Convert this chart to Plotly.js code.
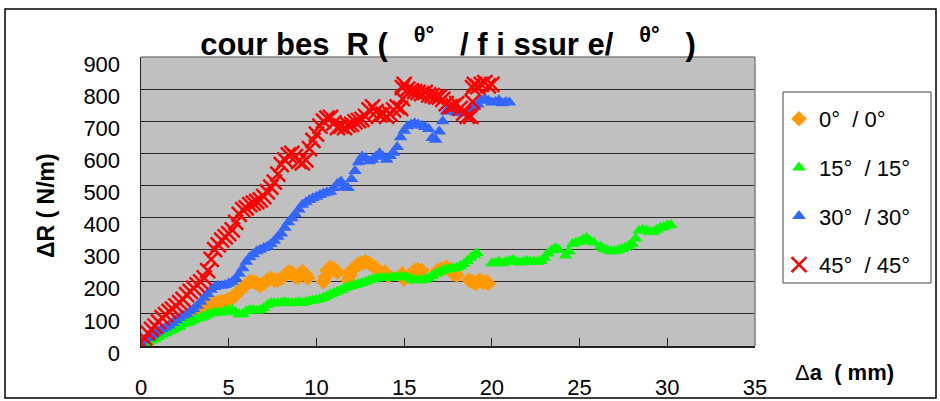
<!DOCTYPE html>
<html>
<head>
<meta charset="utf-8">
<script src="https://cdn.plot.ly/plotly-3.0.1.min.js"></script>
<style>html,body{margin:0;padding:0;background:#fff;}#chart{width:940px;height:401px;}</style>
</head>
<body>
<div id="chart"></div>
<script>
// Legend names
const seriesNames = ['0°  / 0°', '15°  / 15°', '30°  / 30°', '45°  / 45°'];
const xTickVals = [0, 5, 10, 15, 20, 25, 30, 35];
const yTickVals = [0, 100, 200, 300, 400, 500, 600, 700, 800, 900];

// 0° / 0°
const xOrange = [0,0.2,0.4,0.6,0.8,1.0,1.2,1.4,1.6,1.8,
  2.0,2.2,2.4,2.6,2.8,3.0,3.2,3.4,3.6,3.8,
  4.0,4.2,4.4,4.6,4.8,5.0,5.2,5.4,5.6,5.8,
  6.0,6.2,6.4,6.6,6.8,7.0,7.2,7.4,7.6,7.8,
  8.0,8.2,8.4,8.6,8.8,9.0,9.2,9.4,9.5,
  10.4,10.5,10.6,10.8,11.0,11.2,
  11.8,11.9,12.0,12.2,12.4,12.6,12.8,13.0,13.2,13.4,
  13.9,14.1,14.9,15.0,15.4,15.6,15.8,16.0,
  16.9,17.1,17.4,17.6,17.8,18.0,
  18.7,18.9,19.1,19.3,19.5,19.7,19.8];
const yOrange = [5,10,15,22,30,38,45,52,60,66,
  74,80,87,94,100,105,110,115,120,125,
  130,132,135,138,140,145,150,158,172,182,
  190,200,200,195,188,195,205,210,205,205,
  210,220,230,228,215,215,232,222,212,
  200,215,235,245,240,230,
  205,220,235,245,255,258,262,258,250,243,
  230,218,225,208,215,235,238,235,
  235,240,246,240,225,220,
  205,200,195,205,198,200,195];

// 15° / 15°
const xGreen = [0,0.2,0.4,0.6,0.8,1.0,1.2,1.4,1.6,1.8,
  2.0,2.2,2.4,2.6,2.8,3.0,3.2,3.4,3.6,3.8,
  4.0,4.2,4.4,4.6,4.8,5.0,5.2,5.4,5.6,5.8,
  6.0,6.2,6.4,6.6,6.8,7.0,7.2,7.4,7.6,7.8,
  8.0,8.2,8.4,8.6,8.8,9.0,9.2,9.4,9.6,9.8,
  10.0,10.2,10.4,10.6,10.8,11.0,11.2,11.4,11.6,11.8,
  12.0,12.2,12.4,12.6,12.8,13.0,13.2,13.4,13.6,13.8,
  14.0,14.2,14.4,14.6,14.8,15.0,15.2,15.4,15.6,15.8,
  16.0,16.2,16.4,16.6,16.8,17.0,17.2,17.4,17.6,17.8,
  18.0,18.2,18.4,18.6,18.8,19.0,19.15,
  20.0,20.2,20.4,20.6,20.8,21.0,21.2,21.4,21.6,21.8,
  22.0,22.2,22.4,22.6,22.8,23.0,23.2,23.4,23.6,23.8,
  24.2,24.4,24.6,24.8,25.0,25.2,25.4,25.6,25.8,
  26.2,26.4,26.6,26.8,27.0,27.2,27.4,27.6,27.8,28.0,
  28.2,28.4,28.6,28.8,29.0,29.2,29.4,29.6,29.8,30.0,30.2];
const yGreen = [5,8,12,18,22,28,35,40,45,50,
  55,60,68,72,75,80,85,88,92,97,
  102,103,104,104,108,112,113,105,98,100,
  108,112,112,110,112,118,128,134,133,133,
  135,137,134,133,135,137,134,137,140,142,
  143,146,150,155,160,165,170,174,180,184,
  187,190,193,196,200,205,207,210,212,212,
  212,212,214,215,215,214,214,208,205,205,
  205,207,212,218,225,230,235,238,240,242,
  244,248,255,265,275,283,290,
  258,258,262,258,262,265,268,262,260,262,
  265,262,262,262,265,275,288,298,305,300,
  282,295,318,322,325,332,336,328,322,
  310,302,298,295,295,298,302,306,312,318,
  335,360,362,360,355,355,362,368,370,375,377];

// 30° / 30°
const xBlue = [0,0.2,0.4,0.6,0.8,1.0,1.2,1.4,1.6,1.8,
  2.0,2.2,2.4,2.6,2.8,3.0,3.2,3.4,3.6,3.8,
  4.0,4.2,4.4,4.6,4.8,5.0,5.2,5.4,5.6,5.8,
  6.0,6.2,6.4,6.6,6.8,7.0,7.2,7.4,7.6,7.8,
  8.0,8.2,8.4,8.6,8.8,9.0,9.2,9.4,9.6,9.8,
  10.0,10.2,10.4,10.6,10.8,11.0,11.2,11.4,11.6,11.8,
  12.0,12.2,12.4,12.6,12.8,13.0,13.2,13.4,13.6,13.8,
  14.0,14.2,14.4,14.6,14.8,15.0,15.2,15.4,15.6,15.8,
  16.0,16.2,16.4,16.6,16.8,17.0,17.2,17.4,17.6,17.8,
  18.0,18.2,18.4,18.6,18.8,19.0,19.2,19.4,19.6,19.8,
  20.0,20.2,20.4,20.6,20.8,21.0];
const yBlue = [10,18,25,33,40,46,52,58,64,72,
  80,88,95,100,108,115,125,138,150,162,
  175,184,188,188,190,195,200,210,225,242,
  262,276,286,295,300,305,310,318,328,340,
  350,368,385,398,410,425,440,448,455,460,
  465,470,475,478,480,492,505,512,495,492,
  520,545,572,590,585,575,580,590,600,590,
  580,592,602,620,650,670,684,690,694,690,
  686,682,676,648,642,668,700,730,735,730,
  726,728,724,728,736,745,752,765,770,764,
  758,760,765,756,760,758];

// 45° / 45°
const xRed = [0,0.2,0.4,0.6,0.8,1.0,1.2,1.4,1.6,1.8,
  2.0,2.2,2.4,2.6,2.8,3.0,3.2,3.4,3.6,3.8,
  4.0,4.2,4.4,4.6,4.8,5.0,5.2,5.4,5.6,5.8,
  6.0,6.2,6.4,6.6,6.8,7.0,7.2,7.4,7.6,7.8,
  8.0,8.2,8.4,8.6,8.8,9.0,9.2,9.4,9.6,9.8,
  10.0,10.2,10.4,10.6,10.8,11.0,11.2,11.4,11.6,11.8,
  12.0,12.2,12.4,12.6,12.8,13.0,13.2,13.4,13.6,13.8,
  14.0,14.2,14.4,14.6,14.8,14.9,14.9,15.0,15.2,15.4,
  15.6,15.8,16.0,16.2,16.4,16.6,16.8,17.0,17.2,17.4,
  17.6,17.8,18.0,18.2,18.4,18.6,18.8,18.9,18.9,19.0,
  19.2,19.4,19.6,19.8,20.0];
const yRed = [10,25,40,52,62,75,88,98,108,115,
  125,135,145,160,170,180,190,200,212,235,
  270,300,315,330,340,350,362,385,410,425,
  430,440,445,450,455,465,480,495,510,535,
  565,580,595,600,590,575,570,580,615,640,
  660,685,700,710,712,695,680,685,680,688,
  690,698,702,706,715,735,745,730,720,722,
  715,722,735,745,740,770,805,815,800,795,
  792,790,786,790,782,780,776,775,768,755,
  745,748,755,740,725,715,715,760,805,815,
  808,815,820,810,815];

const FONT = 'Liberation Sans, Arial, sans-serif';

const traces = [
  {x: xOrange, y: yOrange, name: seriesNames[0], type: 'scatter', mode: 'markers', legendgroup: 'a',
   marker: {symbol: 'diamond', size: 12, color: '#FF9900', line: {width: 0}}},
  {x: xGreen, y: yGreen, name: seriesNames[1], type: 'scatter', mode: 'markers', legendgroup: 'b',
   marker: {symbol: 'triangle-up', size: 12, color: '#00FF00', line: {width: 0}}},
  {x: xBlue, y: yBlue, name: seriesNames[2], type: 'scatter', mode: 'markers', legendgroup: 'c',
   marker: {symbol: 'triangle-up', size: 12, color: '#3366FF', line: {width: 0}}},
  {x: xRed, y: yRed, name: seriesNames[3], type: 'scatter', mode: 'markers', legendgroup: 'd',
   marker: {symbol: 'x-thin', size: 15, color: '#FF0000', line: {width: 2.5, color: '#FF0000'}}}
];

const L = 141, R = 755, T = 57, B = 346;
const px = v => (v - L) / (R - L);
const py = v => (B - v) / (B - T);

const layout = {
  width: 940, height: 401,
  margin: {l: 141, r: 185, t: 57, b: 55},
  paper_bgcolor: '#FFFFFF',
  plot_bgcolor: '#C0C0C0',
  font: {family: FONT, color: '#000'},
  showlegend: true,
  title: {
    text: '<b>cour bes  R (   <sup>θ°</sup>   / f i ssur e/   <sup>θ°</sup>   )</b>',
    font: {family: FONT, size: 31, color: '#000'},
    x: 0.5, xref: 'paper', xanchor: 'center',
    y: 1 - 44 / 401, yref: 'container', yanchor: 'middle'
  },
  xaxis: {
    range: [0, 35], tickvals: xTickVals, ticks: 'inside', ticklen: 8, tickcolor: '#222', tickwidth: 1,
    showgrid: false, zeroline: false, showline: true, linecolor: '#222', linewidth: 1.5,
    tickfont: {family: FONT, size: 22, color: '#000'}, ticklabelstandoff: 21, fixedrange: true
  },
  yaxis: {
    range: [0, 900], tickvals: yTickVals, ticks: 'inside', ticklen: 7, tickcolor: '#222', tickwidth: 1,
    showgrid: true, gridcolor: '#2a2a2a', gridwidth: 1,
    zeroline: false, showline: true, linecolor: '#222', linewidth: 1.5,
    tickfont: {family: FONT, size: 22, color: '#000'}, ticklabelstandoff: 15, ticklabelshift: 7,
    fixedrange: true
  },
  legend: {
    x: px(779), y: py(98), xanchor: 'left', yanchor: 'top',
    bgcolor: 'rgba(0,0,0,0)', borderwidth: 0,
    font: {family: FONT, size: 22, color: '#000'},
    traceorder: 'grouped', tracegroupgap: 17
  },
  annotations: [
    {text: '<b>ΔR ( N/m)</b>', xref: 'paper', yref: 'paper', x: px(46), y: py(205),
     xanchor: 'center', yanchor: 'middle', textangle: -90, showarrow: false,
     font: {family: FONT, size: 23, color: '#000'}},
    {text: 'Δ<b>a  ( mm)</b>', xref: 'paper', yref: 'paper', x: px(793), y: py(372),
     xanchor: 'left', yanchor: 'middle', showarrow: false,
     font: {family: FONT, size: 22, color: '#000'}}
  ],
  shapes: [
    {type: 'rect', xref: 'paper', yref: 'paper', x0: px(5), x1: px(936), y0: py(398), y1: py(9),
     line: {color: '#000', width: 1.5}, fillcolor: 'rgba(0,0,0,0)'},
    {type: 'line', xref: 'paper', yref: 'paper', x0: 0, x1: 1, y0: 1, y1: 1, line: {color: '#808080', width: 1.5}},
    {type: 'line', xref: 'paper', yref: 'paper', x0: 1, x1: 1, y0: 0, y1: 1, line: {color: '#808080', width: 1.5}},
    {type: 'rect', xref: 'paper', yref: 'paper', x0: px(783), x1: px(931), y0: py(283), y1: py(92),
     line: {color: '#444', width: 1}, fillcolor: 'rgba(0,0,0,0)'}
  ]
};

Plotly.newPlot('chart', traces, layout, {displayModeBar: false, staticPlot: true});
</script>
</body>
</html>
